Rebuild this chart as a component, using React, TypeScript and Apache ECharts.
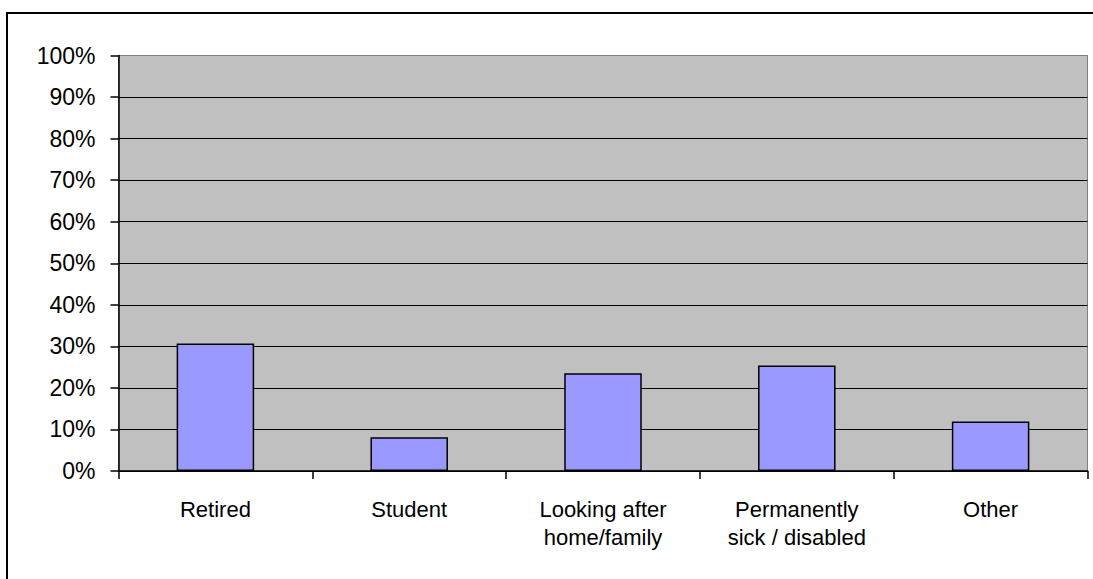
import React, { useEffect, useRef } from "react";
import * as echarts from "echarts";

const categories = ["Retired", "Student", "Looking after\nhome/family", "Permanently\nsick / disabled", "Other"];
const values = [30.7, 8.1, 23.5, 25.4, 11.9];
const yTicks = { min: 0, max: 100, interval: 10 };

const FONT = "'Liberation Sans', Arial, sans-serif";

export default function App() {
  const ref = useRef<HTMLDivElement>(null);
  useEffect(() => {
    if (!ref.current) return;
    const chart = echarts.init(ref.current, null, { renderer: "svg" });
    const gridColors = Array.from({ length: 11 }, (_, i) => (i === 10 ? "#808080" : "#000000"));
    chart.setOption({
      animation: false,
      backgroundColor: "#ffffff",
      graphic: [
        {
          type: "rect",
          shape: { x: 7, y: 13, width: 1100, height: 600 },
          style: { fill: "none", stroke: "#000", lineWidth: 2 },
          z: -10,
        },
      ],
      grid: {
        left: 118.5,
        top: 55.5,
        right: 5.5,
        bottom: 108,
        show: true,
        backgroundColor: "#C0C0C0",
        borderColor: "#808080",
        borderWidth: 1,
        containLabel: false,
      },
      xAxis: {
        type: "category",
        data: categories,
        boundaryGap: true,
        axisLine: { show: true, lineStyle: { color: "#000", width: 1.5 } },
        axisTick: { show: true, length: 8, alignWithLabel: false, lineStyle: { color: "#000", width: 1.5 } },
        axisLabel: {
          color: "#000",
          fontFamily: FONT,
          fontSize: 22,
          lineHeight: 28,
          margin: 24,
          interval: 0,
        },
        splitLine: { show: false },
      },
      yAxis: {
        type: "value",
        min: yTicks.min,
        max: yTicks.max,
        interval: yTicks.interval,
        axisLine: { show: true, lineStyle: { color: "#000", width: 1.5 } },
        axisTick: { show: true, length: 8, lineStyle: { color: "#000", width: 1.5 } },
        axisLabel: {
          color: "#000",
          fontFamily: FONT,
          fontSize: 23,
          margin: 23,
          formatter: "{value}%",
        },
        splitLine: { show: true, lineStyle: { color: gridColors, width: 1.2 } },
      },
      series: [
        {
          type: "bar",
          data: values,
          barWidth: "40%",
          itemStyle: { color: "#9999FF", borderColor: "#000", borderWidth: 1.5 },
        },
      ],
    });
    return () => chart.dispose();
  }, []);
  return (
    <div
      ref={ref}
      style={{ position: "fixed", left: 0, top: 0, width: 1093, height: 579 }}
    />
  );
}
